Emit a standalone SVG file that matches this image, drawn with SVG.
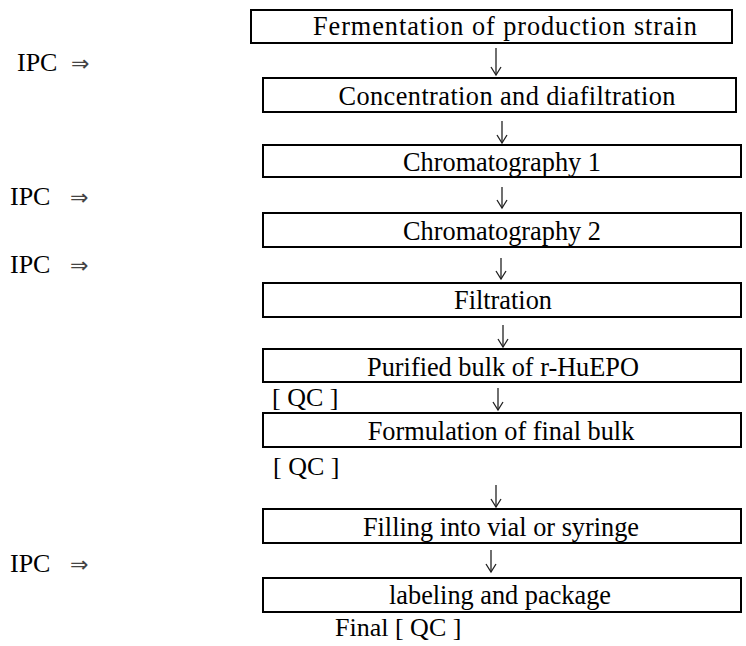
<svg xmlns="http://www.w3.org/2000/svg" width="746" height="646" viewBox="0 0 746 646">
<style>
.box{fill:#fff;stroke:#000;stroke-width:2}
.t{font-size:26.3px;fill:#000;text-anchor:middle}
.l{font-size:26px;fill:#000}
.dbl{font-size:22px;fill:#444}
.arr{fill:none;stroke:#222;stroke-width:1.3}
</style>
<defs>
<marker id="head" viewBox="-10 -6 12 12" refX="0" refY="0" markerWidth="12" markerHeight="12" markerUnits="userSpaceOnUse" orient="auto">
<path d="M-8,-5 L0,0 L-8,5" fill="none" stroke="#222" stroke-width="1.3"/>
</marker>
</defs>
<g font-family="'Liberation Serif', serif">
<g id="n1"><rect class="box" x="251" y="10" width="481" height="33"/><text class="t" x="505" y="35" font-size="28.5" textLength="384" lengthAdjust="spacing">Fermentation of production strain</text></g>
<g id="n2"><rect class="box" x="263" y="78" width="473" height="34"/><text class="t" x="507" y="105" font-size="27.5" textLength="337" lengthAdjust="spacing">Concentration and diafiltration</text></g>
<g id="n3"><rect class="box" x="263" y="145" width="478" height="32"/><text class="t" x="502" y="171">Chromatography 1</text></g>
<g id="n4"><rect class="box" x="263" y="213" width="478" height="34"/><text class="t" x="502" y="240">Chromatography 2</text></g>
<g id="n5"><rect class="box" x="263" y="283" width="478" height="34"/><text class="t" x="503" y="309">Filtration</text></g>
<g id="n6"><rect class="box" x="263" y="349" width="478" height="33"/><text class="t" x="503" y="376">Purified bulk of r-HuEPO</text></g>
<g id="n7"><rect class="box" x="263" y="413" width="478" height="34"/><text class="t" x="501" y="440">Formulation of final bulk</text></g>
<g id="n8"><rect class="box" x="263" y="509" width="478" height="34"/><text class="t" x="501" y="536">Filling into vial or syringe</text></g>
<g id="n9"><rect class="box" x="263" y="578" width="478" height="34"/><text class="t" x="500" y="604">labeling and package</text></g>
<g id="ipc1"><text class="l" x="17" y="71">IPC</text><text class="dbl" x="71" y="71" font-family="'DejaVu Sans', sans-serif">⇒</text></g>
<g id="ipc2"><text class="l" x="10" y="205">IPC</text><text class="dbl" x="70" y="205" font-family="'DejaVu Sans', sans-serif">⇒</text></g>
<g id="ipc3"><text class="l" x="10" y="273">IPC</text><text class="dbl" x="70" y="273" font-family="'DejaVu Sans', sans-serif">⇒</text></g>
<g id="ipc4"><text class="l" x="10" y="572">IPC</text><text class="dbl" x="70" y="572" font-family="'DejaVu Sans', sans-serif">⇒</text></g>
<g id="qc1"><text class="l" x="272" y="406">[ QC ]</text></g>
<g id="qc2"><text class="l" x="273" y="475">[ QC ]</text></g>
<g id="qc3"><text class="l" x="335" y="636">Final [ QC ]</text></g>
</g>
<g id="connectors">
<path class="arr" marker-end="url(#head)" d="M496,48 V75"/>
<path class="arr" marker-end="url(#head)" d="M502,121 V143"/>
<path class="arr" marker-end="url(#head)" d="M502,187 V208"/>
<path class="arr" marker-end="url(#head)" d="M501,258 V279"/>
<path class="arr" marker-end="url(#head)" d="M503,325 V347"/>
<path class="arr" marker-end="url(#head)" d="M498,388 V410"/>
<path class="arr" marker-end="url(#head)" d="M496,485 V507"/>
<path class="arr" marker-end="url(#head)" d="M491,550 V572"/>
</g>
</svg>
